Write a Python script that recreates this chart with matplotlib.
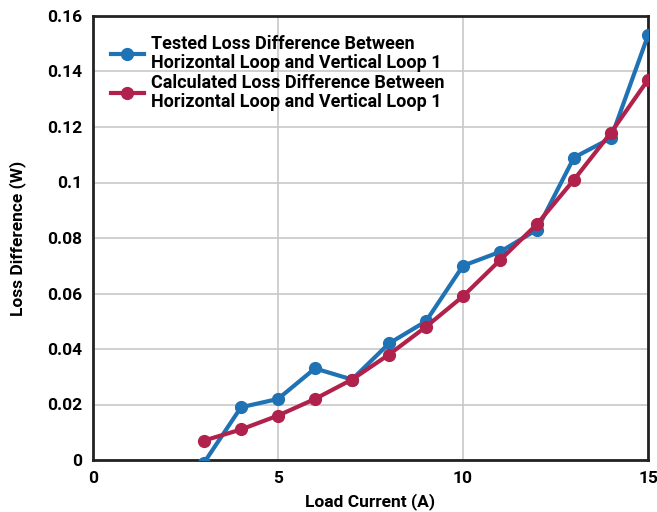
import matplotlib
matplotlib.use("Agg")
from matplotlib import pyplot as plt

current = [3, 4, 5, 6, 7, 8, 9, 10, 11, 12, 13, 14, 15]
tested = [-0.001, 0.019, 0.022, 0.033, 0.029, 0.042, 0.050, 0.070, 0.075, 0.083, 0.109, 0.116, 0.153]
calculated = [0.007, 0.011, 0.016, 0.022, 0.029, 0.038, 0.048, 0.059, 0.072, 0.085, 0.101, 0.118, 0.137]

y_ticks = [0, 0.02, 0.04, 0.06, 0.08, 0.1, 0.12, 0.14, 0.16]
y_labels = ["0", "0.02", "0.04", "0.06", "0.08", "0.1", "0.12", "0.14", "0.16"]
x_ticks = [0, 5, 10, 15]

plt.rcParams['font.family'] = ['Roboto', 'DejaVu Sans']
plt.rcParams['font.weight'] = 'bold'

fig = plt.figure(figsize=(6.57, 5.12), dpi=100)
ax = fig.add_axes([93 / 657, 52 / 512, 555 / 657, 444 / 512])

blue = "#1f72b3"
red = "#b0224c"
ax.plot(current, tested, color=blue, lw=3, marker='o', ms=8.5,
        label="Tested Loss Difference Between\nHorizontal Loop and Vertical Loop 1", zorder=3)
ax.plot(current, calculated, color=red, lw=3, marker='o', ms=8.5,
        label="Calculated Loss Difference Between\nHorizontal Loop and Vertical Loop 1", zorder=3)

ax.set_xlim(0, 15)
ax.set_ylim(0, 0.16)
ax.set_xticks(x_ticks)
ax.set_yticks(y_ticks)
ax.set_yticklabels(y_labels)
ax.grid(True, color="#c8c8c8", lw=1.2)
ax.set_axisbelow(True)
ax.tick_params(length=0, labelsize=12.5, pad=8)
for lbl in ax.get_xticklabels() + ax.get_yticklabels():
    lbl.set_fontweight('bold')
for s in ax.spines.values():
    s.set_linewidth(2)
    s.set_color("#222222")

ax.set_xlabel("Load Current (A)", fontsize=12.5, fontweight='bold', labelpad=5)
ax.set_ylabel("Loss Difference (W)", fontsize=12.5, fontweight='bold', labelpad=15)

leg = ax.legend(loc='upper left', bbox_to_anchor=(0.01, 0.985), frameon=False,
                fontsize=13, handlelength=1.8, handletextpad=0.4, labelspacing=0.1,
                borderaxespad=0.3)
for t in leg.get_texts():
    t.set_fontweight('bold')
    t.set_linespacing(1.05)

plt.savefig("out.png", dpi=100)
